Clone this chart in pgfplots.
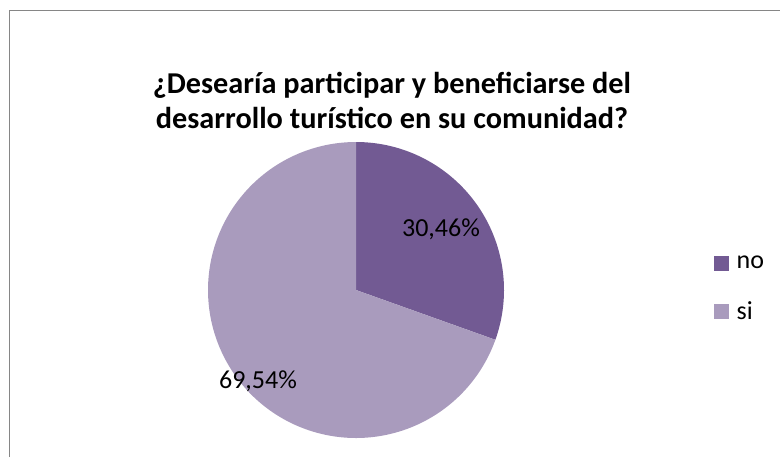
\documentclass[border=0pt]{standalone}
\usepackage{pgfplots}
\pgfplotsset{compat=1.18}
\usepackage{fontspec}
\setmainfont{Carlito}
\definecolor{nocol}{RGB}{114,90,147}
\definecolor{sicol}{RGB}{169,155,189}
\definecolor{framecol}{RGB}{134,134,134}
\begin{document}
\begin{tikzpicture}[x=0.75pt,y=0.75pt]
\useasboundingbox (0,0) rectangle (780,457);
\begin{axis}[at={(0,0)}, anchor=south west, scale only axis,
  width=585pt, height=342.75pt,
  xmin=0, xmax=780, ymin=0, ymax=457, y dir=reverse,
  hide axis, clip=false,
  legend image code/.code={\fill[#1] (0pt,-5.6pt) rectangle (11.25pt,5.6pt);},
  legend style={draw=none, fill=none, font=\fontsize{19.5}{22}\selectfont,
    at={(axis cs:714,253)}, anchor=north west, inner sep=0pt,
    row sep=19.5pt, legend cell align=left,
    nodes={inner sep=2pt},
    /tikz/every odd column/.append style={column sep=3.5pt}},
]
% no = 30.46 %  -> 109.656 degrees, from 90 clockwise
\addplot[fill=nocol, draw=none, domain=-19.656:90, samples=120]
  ({356+148*cos(x)},{290-148*sin(x)}) -- (axis cs:356,290) -- cycle;
\addlegendentry{no}
% si = 69.54 % -> 250.344 degrees
\addplot[fill=sicol, draw=none, domain=90:340.344, samples=240]
  ({356+148*cos(x)},{290-148*sin(x)}) -- (axis cs:356,290) -- cycle;
\addlegendentry{si}
\node[font=\fontsize{19.5}{22}\selectfont] at (axis cs:441,229) {30,46\%};
\node[font=\fontsize{19.5}{22}\selectfont] at (axis cs:258,381) {69,54\%};
\node[font=\bfseries\fontsize{22.7}{26.25}\selectfont, align=center] at (axis cs:392,100.5)
  {¿Desearía participar y beneficiarse del\\desarrollo turístico en su comunidad?};
\draw[framecol, line width=1pt] (axis cs:9.5,457) |- (axis cs:780,10.5);
\end{axis}
\end{tikzpicture}
\end{document}
